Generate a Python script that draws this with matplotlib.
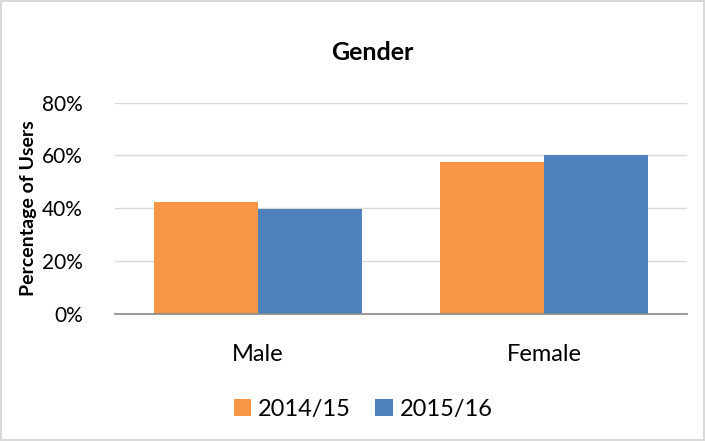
import numpy as np
import matplotlib
matplotlib.use("Agg")
import matplotlib.pyplot as plt
from matplotlib.ticker import PercentFormatter

plt.rcParams['font.family'] = ['Lato', 'DejaVu Sans']

categories = ['Male', 'Female']
years = ['2014/15', '2015/16']
pct_1415 = [42.2, 57.5]
pct_1516 = [39.8, 60.1]
colors = ['#F79646', '#4F81BD']

fig = plt.figure(figsize=(7.05, 4.41), dpi=100)
fig.patch.set_edgecolor('#D9D9D9')
fig.patch.set_linewidth(1.5)
ax = fig.add_axes([0.163, 0.289, 0.812, 0.478])

x = np.arange(len(categories))
w = 0.364
ax.bar(x - w / 2, pct_1415, w, color=colors[0], label=years[0], zorder=3)
ax.bar(x + w / 2, pct_1516, w, color=colors[1], label=years[1], zorder=3)

ax.set_xlim(-0.5, 1.5)
ax.set_ylim(0, 80)
ax.set_yticks([0, 20, 40, 60, 80])
ax.yaxis.set_major_formatter(PercentFormatter(decimals=0))
ax.grid(axis='y', color='#D9D9D9', linewidth=1, zorder=0)
for s in ['top', 'right', 'left']:
    ax.spines[s].set_visible(False)
ax.spines['bottom'].set_color('#898989')
ax.spines['bottom'].set_linewidth(1.2)
ax.spines['bottom'].set_zorder(4)
ax.tick_params(axis='both', length=0)
ax.tick_params(axis='y', labelsize=15, pad=23)
ax.set_xticks(x)
ax.set_xticklabels(categories, fontsize=17)
ax.tick_params(axis='x', pad=22)

ax.set_ylabel('Percentage of Users', fontsize=14, fontweight='bold', labelpad=4)
fig.text(0.528, 0.88, 'Gender', ha='center', va='center', fontsize=18, fontweight='bold')

fig.legend(loc='center', bbox_to_anchor=(0.515, 0.072), ncol=2, frameon=False,
           fontsize=17, handlelength=0.75, handleheight=0.75, handletextpad=0.3,
           columnspacing=1.0)

fig.savefig('out.png', dpi=100)
